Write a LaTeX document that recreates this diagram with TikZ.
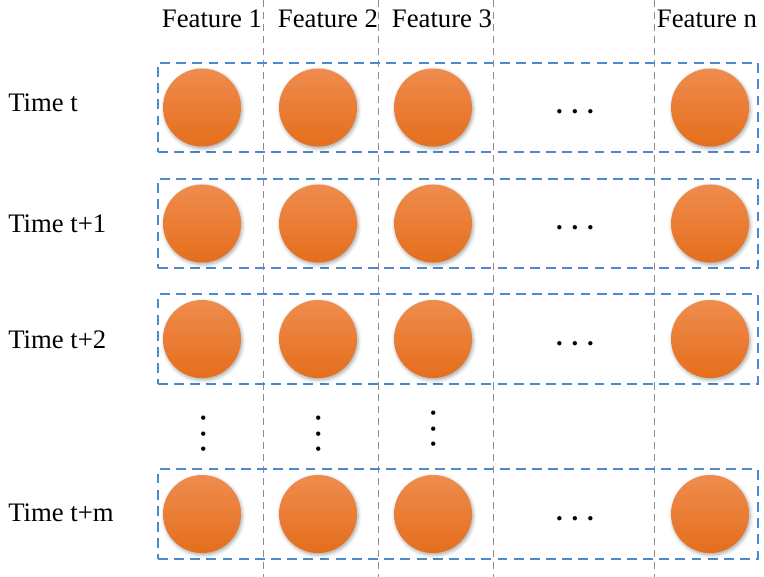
\documentclass[tikz,border=0pt]{standalone}
\usepackage{fontspec}
\setmainfont{Liberation Serif}
\usetikzlibrary{shadows.blur}

\definecolor{balltop}{HTML}{EF8C4E}
\definecolor{ballbot}{HTML}{E56E1C}
\definecolor{rowblue}{HTML}{4C8BCB}
\definecolor{gridgray}{HTML}{8C8C8C}

\tikzset{
  ball/.style={circle, minimum size=1.95cm, inner sep=0pt,
    top color=balltop, bottom color=ballbot,
    blur shadow={shadow xshift=0.8pt, shadow yshift=-1.4pt,
      shadow blur radius=2.5pt, shadow opacity=35}},
  rowbox/.style={draw=rowblue, line width=1.3pt, dash pattern=on 7pt off 4.5pt,
    minimum width=15cm, minimum height=2.23cm, inner sep=0pt},
  colline/.style={draw=gridgray, line width=0.6pt, dash pattern=on 5pt off 3.5pt},
  lbl/.style={font=\fontsize{19}{22}\selectfont, inner sep=0pt},
  dots/.style={font=\fontsize{19}{22}\selectfont\bfseries, inner sep=0pt}
}

\begin{document}
\begin{tikzpicture}[x=0.025cm, y=-0.025cm]
  \useasboundingbox (0,0) rectangle (764,577);

  % feature columns
  \foreach \xx in {263,378,493,654}
    \draw[colline] (\xx,0) -- (\xx,577);

  \node[lbl, anchor=base] (feat1) at (212,28) {Feature 1};
  \node[lbl, anchor=base] (feat2) at (328,28) {Feature 2};
  \node[lbl, anchor=base] (feat3) at (442,28) {Feature 3};
  \node[lbl, anchor=base] (featn) at (707,28) {Feature n};

  % time steps
  \foreach \rr/\yy/\bl/\tt in {1/107.5/112/{Time t}, 2/223.5/233/{Time t+1},
                               3/339/348/{Time t+2}, m/514/521/{Time t+m}} {
    \node[rowbox] (row\rr) at (458,\yy) {};
    \node[lbl, anchor=base west] (time\rr) at (8,\bl) {\tt};
    \node[ball] (ball\rr-1) at (202,\yy) {};
    \node[ball] (ball\rr-2) at (318,\yy) {};
    \node[ball] (ball\rr-3) at (433,\yy) {};
    \node[ball] (ball\rr-n) at (710,\yy) {};
    \node[dots] (hdots\rr) at (575,\yy+4.5) {. . .};
  }

  % skipped steps
  \node[dots, rotate=90] (vdots1) at (204,434) {. . .};
  \node[dots, rotate=90] (vdots2) at (319,434) {. . .};
  \node[dots, rotate=90] (vdots3) at (434,429) {. . .};
\end{tikzpicture}
\end{document}
